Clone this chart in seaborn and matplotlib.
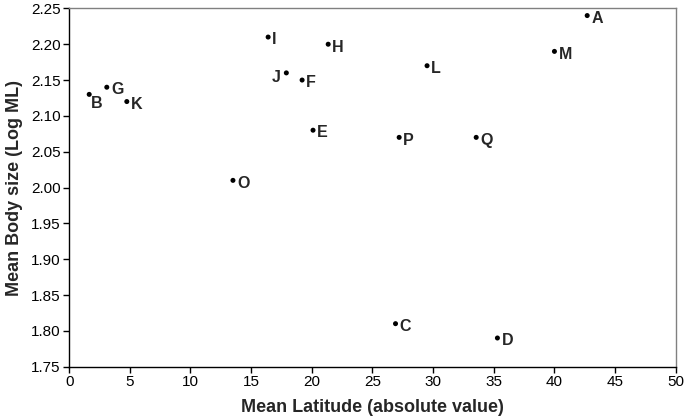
import matplotlib
matplotlib.use("Agg")
import matplotlib.pyplot as plt
import seaborn as sns
import pandas as pd

# values
labels = ["A", "B", "C", "D", "E", "F", "G", "H", "I", "J", "K", "L", "M", "O", "P", "Q"]
latitude = [42.7, 1.65, 26.9, 35.3, 20.1, 19.2, 3.1, 21.35, 16.4, 17.9, 4.75, 29.5, 40.0, 13.5, 27.2, 33.55]
body_size = [2.24, 2.13, 1.81, 1.79, 2.08, 2.15, 2.14, 2.20, 2.21, 2.16, 2.12, 2.17, 2.19, 2.01, 2.07, 2.07]

df = pd.DataFrame({"label": labels, "lat": latitude, "size": body_size})

sns.set_style("white")
plt.rcParams["font.family"] = ["Liberation Sans", "DejaVu Sans"]

fig = plt.figure(figsize=(6.85, 4.2), dpi=100)
ax = fig.add_axes([0.101, 0.127, 0.8855, 0.853])

sns.scatterplot(data=df, x="lat", y="size", ax=ax, color="black", s=13,
                edgecolor="none", legend=False)

# label offsets (points); most sit right of the dot
special = {"B": (1.5, -6.5, "left"), "J": (-4.0, -3.0, "right")}
for lab, xv, yv in zip(df["label"], df["lat"], df["size"]):
    dx, dy, ha = special.get(lab, (3.0, -2.0, "left"))
    ax.annotate(lab, (xv, yv), xytext=(dx, dy), textcoords="offset points",
                ha=ha, va="center", fontsize=11.5, fontweight="bold")

ax.set_xlim(0, 50)
ax.set_ylim(1.75, 2.25)
ax.set_xticks(range(0, 51, 5))
ax.set_yticks([1.75 + 0.05 * i for i in range(11)])
ax.yaxis.set_major_formatter(matplotlib.ticker.FormatStrFormatter("%.2f"))
ax.tick_params(axis="both", direction="out", length=4, width=1, labelsize=11,
               colors="black", left=True, bottom=True, pad=2)

for side in ["left", "bottom"]:
    ax.spines[side].set_color("black")
    ax.spines[side].set_linewidth(1)
for side in ["top", "right"]:
    ax.spines[side].set_color("#808080")
    ax.spines[side].set_linewidth(1)

ax.set_xlabel("Mean Latitude (absolute value)", fontsize=13, fontweight="bold", labelpad=7)
ax.set_ylabel("Mean Body size (Log ML)", fontsize=13, fontweight="bold", labelpad=6)

fig.savefig("out.png", dpi=100)
